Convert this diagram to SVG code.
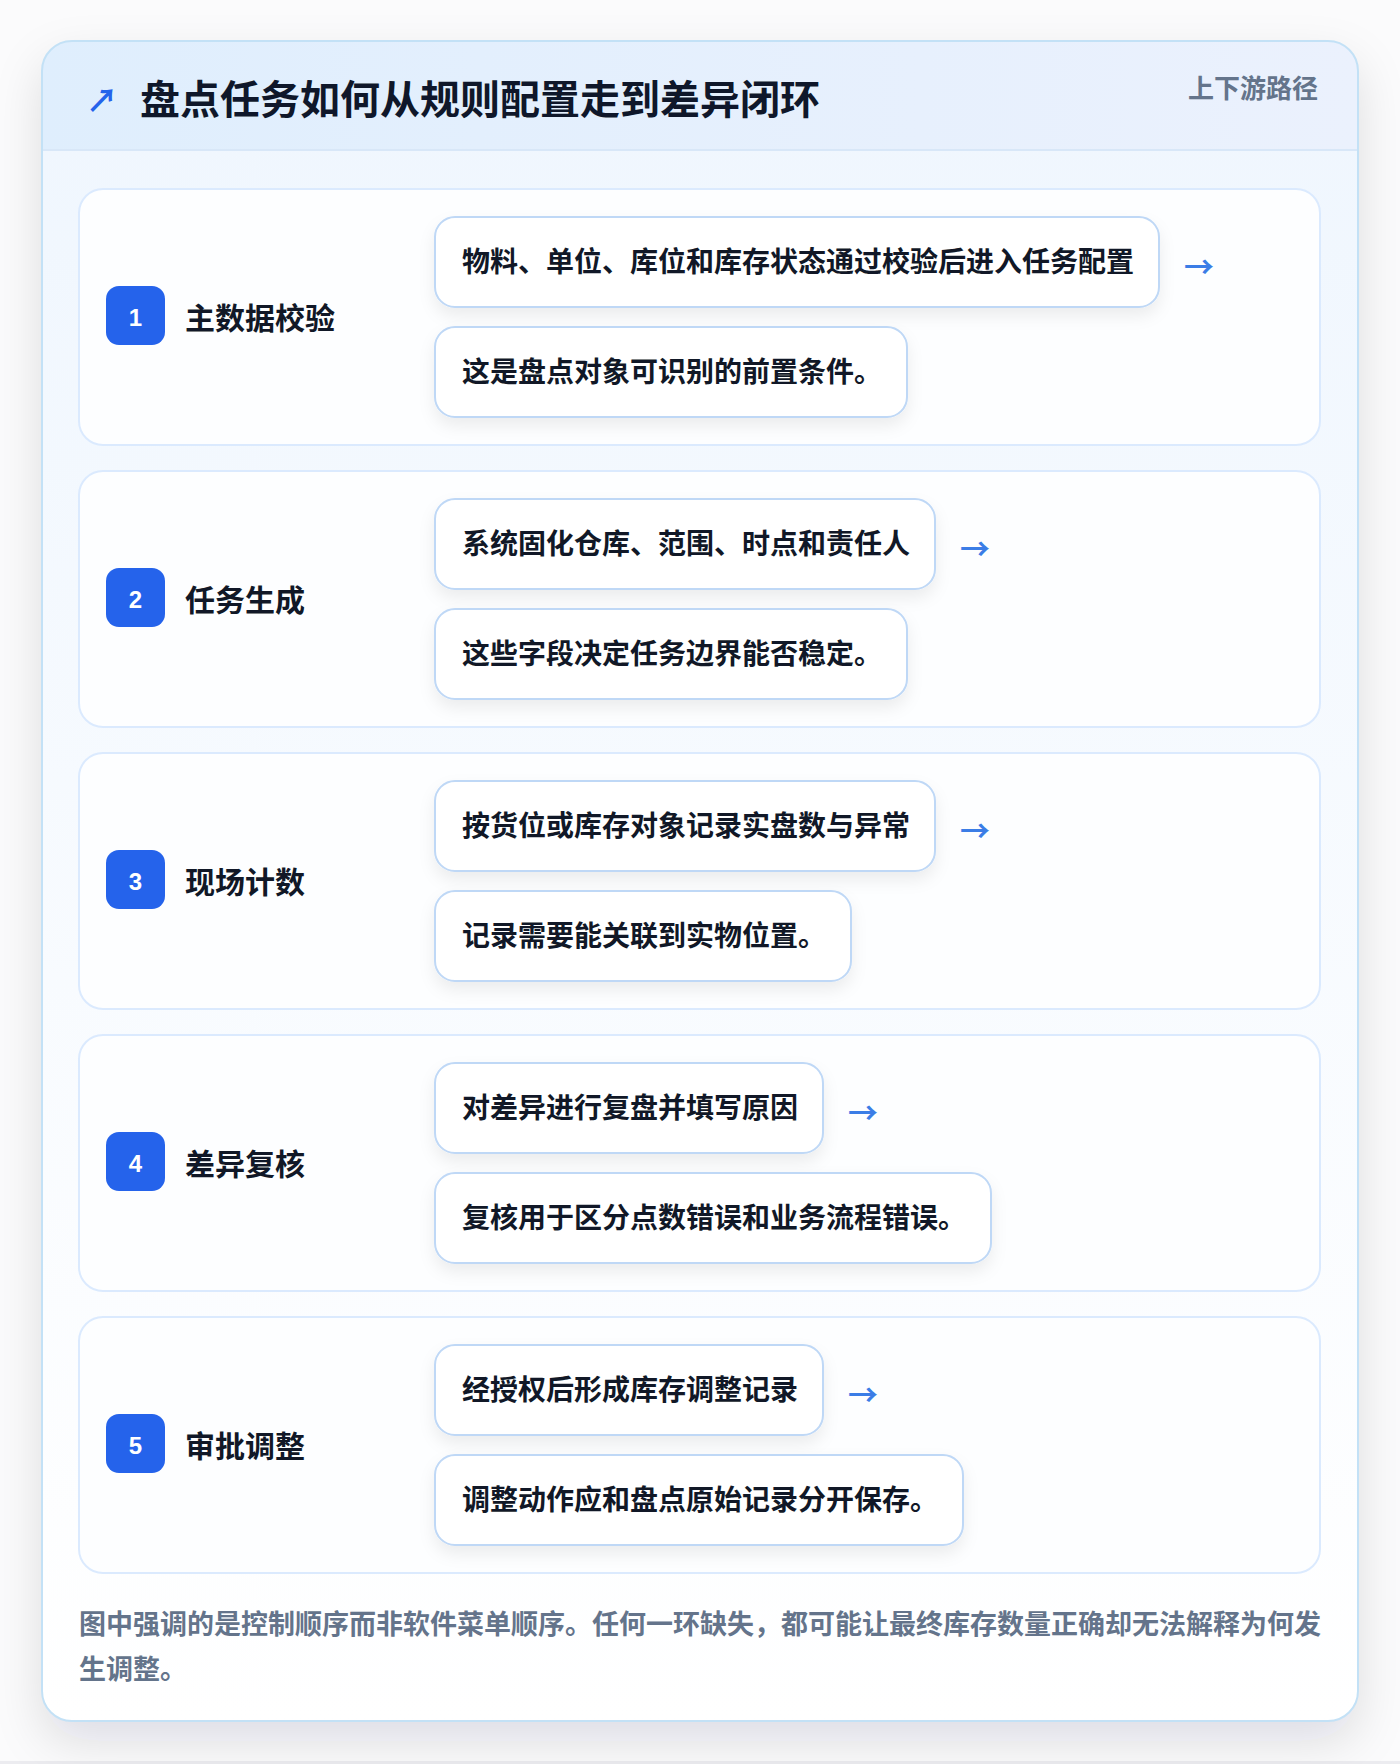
<svg xmlns="http://www.w3.org/2000/svg" width="1400" height="1764" viewBox="0 0 1400 1764">
<defs>
<linearGradient id="hdr" x1="0" y1="0" x2="1" y2="0"><stop offset="0" stop-color="#dfeefd"/><stop offset="1" stop-color="#ebf1fd"/></linearGradient>
<linearGradient id="body" x1="0" y1="0" x2="0" y2="1"><stop offset="0" stop-color="#eff6fe"/><stop offset="1" stop-color="#ffffff"/></linearGradient>
<filter id="outerShadow" x="-10%" y="-10%" width="120%" height="125%"><feDropShadow dx="0" dy="20" stdDeviation="24" flood-color="#0f172a" flood-opacity="0.12"/></filter>
<filter id="boxShadow" x="-10%" y="-30%" width="120%" height="170%"><feDropShadow dx="0" dy="8" stdDeviation="8" flood-color="#0f172a" flood-opacity="0.07"/></filter>
<clipPath id="outerClip"><rect x="42" y="41" width="1316" height="1680" rx="30"/></clipPath>
<style>
.card{fill:#fdfeff;stroke:#dbeafe;stroke-width:2}
.box{fill:#ffffff;stroke:#bfd8f6;stroke-width:2}
.badge{fill:#2563eb}
.num{font-family:"Liberation Sans","Noto Sans",sans-serif;font-weight:700;font-size:24px;fill:#ffffff;text-anchor:middle}
.lbl{font-family:"Noto Sans CJK SC","Noto Sans",sans-serif;font-weight:700;font-size:30px;fill:#111827}
.txt{font-family:"Noto Sans CJK SC","Noto Sans",sans-serif;font-weight:700;font-size:28px;fill:#111827}
.arr{font-family:"Noto Sans CJK SC",sans-serif;font-weight:700;font-size:30px;fill:#3b7de6}
</style>
</defs>
<rect x="0" y="0" width="1400" height="1764" fill="#fbfbfc"/>
<rect x="0" y="1761" width="1400" height="3" fill="#ececf0"/>
<g id="frame">
<rect x="42" y="41" width="1316" height="1680" rx="30" fill="url(#body)" filter="url(#outerShadow)"/>
<g clip-path="url(#outerClip)">
<rect x="42" y="41" width="1316" height="110" fill="url(#hdr)"/>
<rect x="42" y="149" width="1316" height="2" fill="#d8e7f8"/>
</g>
<rect x="42" y="41" width="1316" height="1680" rx="30" fill="none" stroke="#c3e1f6" stroke-width="2"/>
</g>
<g id="header">
<text x="86" y="112" font-family="Noto Sans CJK SC,sans-serif" font-size="32" font-weight="700" fill="#2563eb">↗</text>
<text x="140" y="114" font-family="Noto Sans CJK SC,Noto Sans,sans-serif" font-size="40" font-weight="700" fill="#0f172a">盘点任务如何从规则配置走到差异闭环</text>
<text x="1318" y="98" text-anchor="end" font-family="Noto Sans CJK SC,Noto Sans,sans-serif" font-size="26" font-weight="700" fill="#64748b">上下游路径</text>
</g>
<g id="step1">
<rect class="card" x="79" y="189" width="1241" height="256" rx="24"/>
<rect class="badge" x="106" y="286" width="59" height="59" rx="13"/>
<text class="num" x="135.5" y="326">1</text>
<text class="lbl" x="185" y="329">主数据校验</text>
<rect class="box" x="435" y="217" width="724" height="90" rx="20" filter="url(#boxShadow)"/>
<text class="txt" x="462" y="272">物料、单位、库位和库存状态通过校验后进入任务配置</text>
<text class="arr" x="1184" y="278">→</text>
<rect class="box" x="435" y="327" width="472" height="90" rx="20" filter="url(#boxShadow)"/>
<text class="txt" x="462" y="382">这是盘点对象可识别的前置条件。</text>
</g>
<g id="step2">
<rect class="card" x="79" y="471" width="1241" height="256" rx="24"/>
<rect class="badge" x="106" y="568" width="59" height="59" rx="13"/>
<text class="num" x="135.5" y="608">2</text>
<text class="lbl" x="185" y="611">任务生成</text>
<rect class="box" x="435" y="499" width="500" height="90" rx="20" filter="url(#boxShadow)"/>
<text class="txt" x="462" y="554">系统固化仓库、范围、时点和责任人</text>
<text class="arr" x="960" y="560">→</text>
<rect class="box" x="435" y="609" width="472" height="90" rx="20" filter="url(#boxShadow)"/>
<text class="txt" x="462" y="664">这些字段决定任务边界能否稳定。</text>
</g>
<g id="step3">
<rect class="card" x="79" y="753" width="1241" height="256" rx="24"/>
<rect class="badge" x="106" y="850" width="59" height="59" rx="13"/>
<text class="num" x="135.5" y="890">3</text>
<text class="lbl" x="185" y="893">现场计数</text>
<rect class="box" x="435" y="781" width="500" height="90" rx="20" filter="url(#boxShadow)"/>
<text class="txt" x="462" y="836">按货位或库存对象记录实盘数与异常</text>
<text class="arr" x="960" y="842">→</text>
<rect class="box" x="435" y="891" width="416" height="90" rx="20" filter="url(#boxShadow)"/>
<text class="txt" x="462" y="946">记录需要能关联到实物位置。</text>
</g>
<g id="step4">
<rect class="card" x="79" y="1035" width="1241" height="256" rx="24"/>
<rect class="badge" x="106" y="1132" width="59" height="59" rx="13"/>
<text class="num" x="135.5" y="1172">4</text>
<text class="lbl" x="185" y="1175">差异复核</text>
<rect class="box" x="435" y="1063" width="388" height="90" rx="20" filter="url(#boxShadow)"/>
<text class="txt" x="462" y="1118">对差异进行复盘并填写原因</text>
<text class="arr" x="848" y="1124">→</text>
<rect class="box" x="435" y="1173" width="556" height="90" rx="20" filter="url(#boxShadow)"/>
<text class="txt" x="462" y="1228">复核用于区分点数错误和业务流程错误。</text>
</g>
<g id="step5">
<rect class="card" x="79" y="1317" width="1241" height="256" rx="24"/>
<rect class="badge" x="106" y="1414" width="59" height="59" rx="13"/>
<text class="num" x="135.5" y="1454">5</text>
<text class="lbl" x="185" y="1457">审批调整</text>
<rect class="box" x="435" y="1345" width="388" height="90" rx="20" filter="url(#boxShadow)"/>
<text class="txt" x="462" y="1400">经授权后形成库存调整记录</text>
<text class="arr" x="848" y="1406">→</text>
<rect class="box" x="435" y="1455" width="528" height="90" rx="20" filter="url(#boxShadow)"/>
<text class="txt" x="462" y="1510">调整动作应和盘点原始记录分开保存。</text>
</g>
<g id="connectors"></g>
<g id="footer" font-family="Noto Sans CJK SC,Noto Sans,sans-serif" font-size="27" font-weight="700" fill="#64748b">
<text x="79" y="1634">图中强调的是控制顺序而非软件菜单顺序。任何一环缺失，都可能让最终库存数量正确却无法解释为何发</text>
<text x="79" y="1679">生调整。</text>
</g>
</svg>
